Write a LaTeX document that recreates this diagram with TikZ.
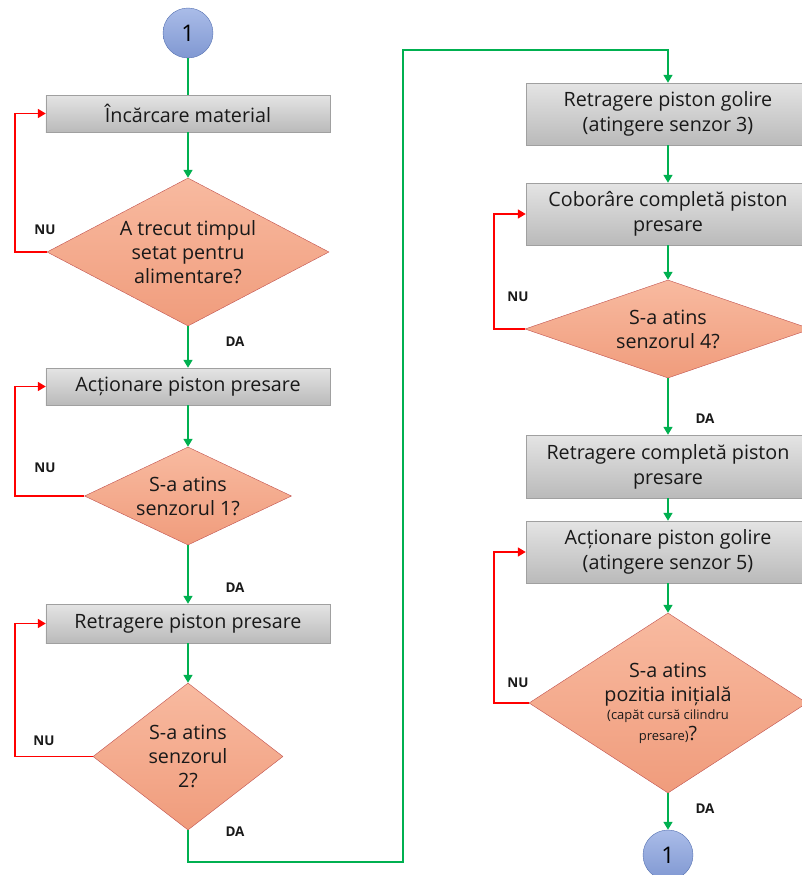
\documentclass[tikz,border=0pt]{standalone}
\usepackage{fontspec}
\setmainfont{Open Sans}
\usetikzlibrary{positioning,arrows.meta,shapes.geometric}
\definecolor{flowgreen}{RGB}{0,176,80}
\definecolor{loopred}{RGB}{255,0,0}
\definecolor{boxtop}{RGB}{228,228,228}
\definecolor{boxbot}{RGB}{186,186,186}
\definecolor{boxline}{RGB}{160,160,160}
\definecolor{dectop}{RGB}{248,186,160}
\definecolor{decbot}{RGB}{240,156,124}
\definecolor{decline}{RGB}{192,80,77}
\definecolor{contop}{RGB}{170,188,232}
\definecolor{conbot}{RGB}{128,152,210}
\definecolor{conline}{RGB}{84,112,176}
\tikzset{>={Triangle[length=8bp,width=9bp]},
  procbox/.style={rectangle,draw=boxline,top color=boxtop,bottom color=boxbot,
    minimum width=284bp,inner sep=0pt,align=center,text=black!90,
    font=\fontsize{19.8}{25}\selectfont},
  decision/.style={diamond,draw=decline,top color=dectop,bottom color=decbot,
    inner sep=-60bp,align=center,text=black!90,font=\fontsize{19.8}{24}\selectfont},
  connector/.style={circle,draw=conline,top color=contop,bottom color=conbot,
    minimum size=50bp,inner sep=0pt,font=\fontsize{23}{24}\selectfont},
  conn/.style={draw=flowgreen,line width=1.6bp,->},
  back/.style={draw=loopred,line width=1.6bp,->},
  lbl/.style={font=\fontsize{13.5}{14}\selectfont\bfseries,text=black!90}}
\newcommand{\subnote}[1]{{\fontsize{13}{16}\selectfont #1}}

\begin{document}
\begin{tikzpicture}[x=1bp,y=-1bp]
    \useasboundingbox (0,0) rectangle (802,875);

    % left column
    \node [connector] (start) at (188,33) {1};
    \node [procbox,minimum height=37bp] (load) at (188,113.5) {Încărcare material};
    \node [decision,minimum width=282bp,minimum height=148bp] (time) at (188,252)
        {A trecut timpul\\setat pentru\\alimentare?};
    \node [procbox,minimum height=37bp] (press) at (188,386.5) {Acționare piston presare};
    \node [decision,minimum width=207bp,minimum height=98bp] (sens1) at (188,496)
        {S-a atins\\senzorul 1?};
    \node [procbox,minimum height=39bp] (retr) at (188,623.5) {Retragere piston presare};
    \node [decision,minimum width=190bp,minimum height=147bp] (sens2) at (188,756.5)
        {S-a atins\\senzorul\\2?};

    % right column
    \node [procbox,minimum height=62bp] (empty3) at (668,114)
        {Retragere piston golire\\(atingere senzor 3)};
    \node [procbox,minimum height=62bp] (lower) at (668,214)
        {Coborâre completă piston\\presare};
    \node [decision,minimum width=286bp,minimum height=98bp] (sens4) at (668,329)
        {S-a atins\\senzorul 4?};
    \node [procbox,minimum height=63bp] (full) at (668,466.5)
        {Retragere completă piston\\presare};
    \node [procbox,minimum height=62bp] (empty5) at (668,552)
        {Acționare piston golire\\(atingere senzor 5)};
    \node [decision,minimum width=278bp,minimum height=180bp] (home) at (668,703)
        {S-a atins\\pozitia inițială\\[-6bp]\subnote{(capăt cursă cilindru}\\[-3bp]
         \subnote{presare)}?};
    \node [connector] (stop) at (668,855) {1};

    % labels
    \node [lbl] (nu1) at (45,230) {NU};
    \node [lbl] (da1) at (235,342) {DA};
    \node [lbl] (nu2) at (45,468) {NU};
    \node [lbl] (da2) at (235,588) {DA};
    \node [lbl] (nu3) at (44,741) {NU};
    \node [lbl] (da3) at (235,832) {DA};
    \node [lbl] (nu4) at (518,297) {NU};
    \node [lbl] (da4) at (705,419) {DA};
    \node [lbl] (nu5) at (518,683) {NU};
    \node [lbl] (da5) at (705,809) {DA};

    \coordinate (lx) at (15,0);
    \coordinate (rx) at (494,0);
    \coordinate (jb) at (403,862);
    \coordinate (jt) at (403,50);

    % flow
    \path [conn,-] (start) -- (load);
    \path [conn] (load) -- (time);
    \path [conn] (time) -- (press);
    \path [conn] (press) -- (sens1);
    \path [conn] (sens1) -- (retr);
    \path [conn] (retr) -- (sens2);
    \path [conn] (sens2.south) |- (jb) -- (jt) -| (empty3.north);
    \path [conn] (empty3) -- (lower);
    \path [conn] (lower) -- (sens4);
    \path [conn] (sens4) -- (full);
    \path [conn] (full) -- (empty5);
    \path [conn] (empty5) -- (home);
    \path [conn] (home) -- (stop);

    % loops back
    \path [back] (time.west) -- (time.west -| lx) |- (load.west);
    \path [back] (sens1.west) -- (sens1.west -| lx) |- (press.west);
    \path [back] (sens2.west) -- (sens2.west -| lx) |- (retr.west);
    \path [back] (sens4.west) -- (sens4.west -| rx) |- (lower.west);
    \path [back] (home.west) -- (home.west -| rx) |- (empty5.west);
\end{tikzpicture}
\end{document}
